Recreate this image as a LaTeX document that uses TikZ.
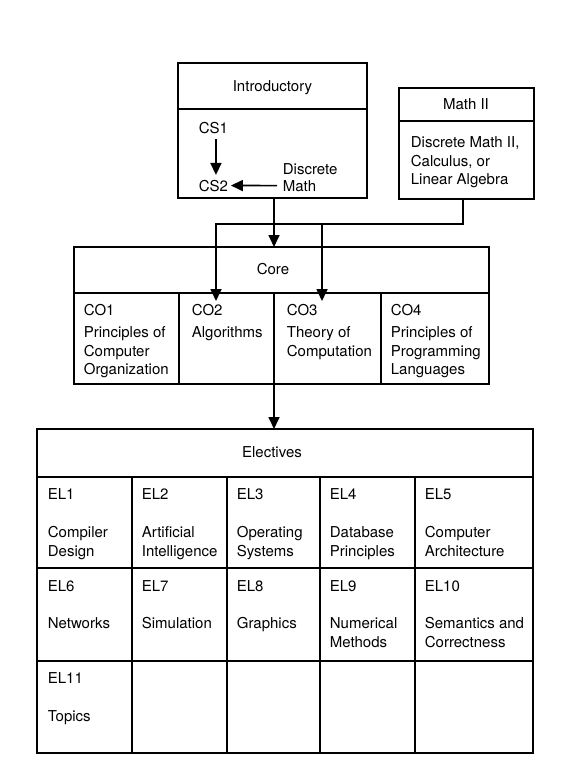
\documentclass[tikz,border=0pt]{standalone}
\usepackage{fontspec}
\setmainfont{TeX Gyre Heros}
\usetikzlibrary{arrows.meta}
\begin{document}
\begin{tikzpicture}[x=1pt,y=-1pt,
  line width=1.7pt, line join=miter,
  box/.style={draw, rectangle, inner sep=0pt, outer sep=0pt},
  lbl/.style={anchor=base west, inner sep=0pt, font=\fontsize{15}{18}\selectfont},
  ttl/.style={anchor=base, inner sep=0pt, font=\fontsize{15}{18}\selectfont},
  arr/.style={-{Triangle[length=12pt,width=11pt]}}]
\useasboundingbox (0,0) rectangle (574,784);

% boxes
\node[box, minimum width=189pt, minimum height=135pt] (intro) at (272.5,130.5) {};
\node[box, minimum width=135pt, minimum height=111pt] (mathii) at (466.5,143.5) {};
\node[box, minimum width=415pt, minimum height=137pt] (core) at (281.5,315.5) {};
\node[box, minimum width=496pt, minimum height=324pt] (electives) at (285,591) {};

% dividers
\draw (178,109) -- (367,109);
\draw (399,121) -- (534,121);
\draw (74,293) -- (489,293);
\foreach \x in {179,274,381} \draw (\x,293) -- (\x,384);
\foreach \y in {477,568,661} \draw (37,\y) -- (533,\y);
\foreach \x in {132,227,320,415} \draw (\x,477) -- (\x,753);

% Introductory
\node[ttl] (introT) at (272.5,91) {Introductory};
\node[lbl] (cs1) at (198,133) {CS1};
\node[lbl] (cs2) at (198,191) {CS2};
\node[lbl] (dm1) at (282,174) {Discrete};
\node[lbl] (dm2) at (282,191) {Math};
\draw[arr, shorten <=5pt, shorten >=4pt] ([xshift=2.5pt]cs1.south) -- ([xshift=2.5pt]cs2.north);
\draw[arr, shorten <=5pt, shorten >=2pt] (dm2.west) -- (cs2.east);

% Math II
\node[ttl] (mathT) at (466,109) {Math II};
\node[lbl] (m1) at (410,147) {Discrete Math II,};
\node[lbl] (m2) at (410,166) {Calculus, or};
\node[lbl] (m3) at (410,184) {Linear Algebra};

% Core
\node[ttl] (coreT) at (273,274) {Core};
\node[lbl] (co1) at (83,315) {CO1};
\node[lbl] (co1a) at (83,337) {Principles of};
\node[lbl] (co1b) at (83,356) {Computer};
\node[lbl] (co1c) at (83,374) {Organization};
\node[lbl] (co2) at (191,315) {CO2};
\node[lbl] (co2a) at (191,337) {Algorithms};
\node[lbl] (co3) at (286,315) {CO3};
\node[lbl] (co3a) at (286,337) {Theory of};
\node[lbl] (co3b) at (286,356) {Computation};
\node[lbl] (co4) at (390,315) {CO4};
\node[lbl] (co4a) at (390,337) {Principles of};
\node[lbl] (co4b) at (390,356) {Programming};
\node[lbl] (co4c) at (390,374) {Languages};

% Electives
\node[ttl] (elT) at (272,457) {Electives};
\node[lbl] (el1) at (47,499) {EL1};
\node[lbl] (el1a) at (47,537) {Compiler};
\node[lbl] (el1b) at (47,556) {Design};
\node[lbl] (el2) at (141,499) {EL2};
\node[lbl] (el2a) at (141,537) {Artificial};
\node[lbl] (el2b) at (141,556) {Intelligence};
\node[lbl] (el3) at (236,499) {EL3};
\node[lbl] (el3a) at (236,537) {Operating};
\node[lbl] (el3b) at (236,556) {Systems};
\node[lbl] (el4) at (329,499) {EL4};
\node[lbl] (el4a) at (329,537) {Database};
\node[lbl] (el4b) at (329,556) {Principles};
\node[lbl] (el5) at (424,499) {EL5};
\node[lbl] (el5a) at (424,537) {Computer};
\node[lbl] (el5b) at (424,556) {Architecture};
\node[lbl] (el6) at (47,591) {EL6};
\node[lbl] (el6a) at (47,628) {Networks};
\node[lbl] (el7) at (141,591) {EL7};
\node[lbl] (el7a) at (141,628) {Simulation};
\node[lbl] (el8) at (236,591) {EL8};
\node[lbl] (el8a) at (236,628) {Graphics};
\node[lbl] (el9) at (329,591) {EL9};
\node[lbl] (el9a) at (329,628) {Numerical};
\node[lbl] (el9b) at (329,647) {Methods};
\node[lbl] (el10) at (424,591) {EL10};
\node[lbl] (el10a) at (424,628) {Semantics and};
\node[lbl] (el10b) at (424,647) {Correctness};
\node[lbl] (el11) at (47,683) {EL11};
\node[lbl] (el11a) at (47,721) {Topics};

% connectors
\coordinate (k) at (274,0);
\coordinate (jm) at (463,224);
\coordinate (j2) at (216,301);
\coordinate (j3) at (322,301);
\draw[arr] (intro.south -| k) -- (core.north -| k);
\draw[arr] (mathii.south -| jm) -- (jm) -- (jm -| j2) -- (j2);
\draw[arr] (jm -| j3) -- (j3);
\draw[arr] (core.south -| k) -- (electives.north -| k);
\end{tikzpicture}
\end{document}
